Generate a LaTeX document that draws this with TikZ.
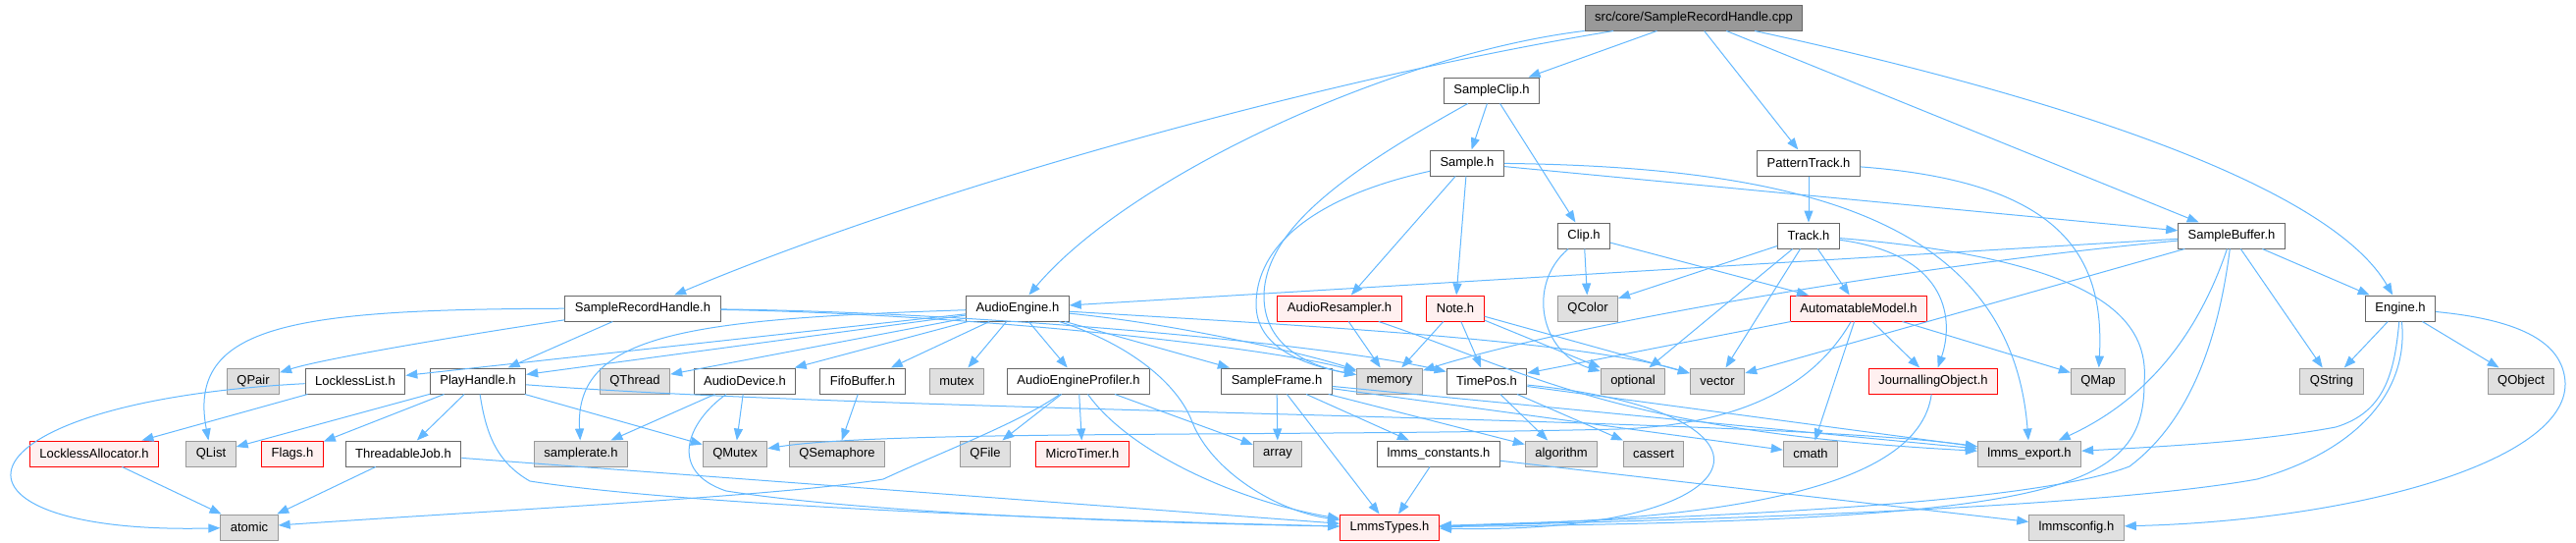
\documentclass[tikz,border=0pt]{standalone}
\usepackage{fontspec}
\setmainfont{Liberation Sans}
\usetikzlibrary{arrows.meta}
\definecolor{edgeBlue}{HTML}{63B8FF}
\definecolor{fileBorder}{HTML}{666666}
\definecolor{sysBorder}{HTML}{999999}
\definecolor{sysFill}{HTML}{E0E0E0}
\definecolor{truncFill}{HTML}{FFF0F0}
\begin{document}
\begin{tikzpicture}
[x=1pt,y=-1pt,
file/.style={draw=fileBorder,fill=white,line width=1pt,minimum height=26pt,inner xsep=10pt,inner ysep=0pt,font=\fontsize{13}{15}\selectfont},
sysFile/.style={file,draw=sysBorder,fill=sysFill},
truncFile/.style={file,draw=red,fill=truncFill},
mainFile/.style={file,fill=sysBorder},
edge/.style={draw=edgeBlue,line width=1pt,-{Triangle[length=12pt,width=9pt]}},
]\useasboundingbox (0,0) rectangle (2625,552);
\node[mainFile,] (1) at (1726 , 18) {src/core/SampleRecordHandle.cpp};
\node[file,] (2) at (655 , 314) {SampleRecordHandle.h};
\node[sysFile,] (3) at (215 , 462) {QList};
\node[sysFile,] (4) at (258 , 388) {QPair};
\node[file,] (5) at (487 , 388) {PlayHandle.h};
\node[truncFile,] (6) at (298 , 462) {Flags.h};
\node[file,] (7) at (411 , 462) {ThreadableJob.h};
\node[sysFile,] (8) at (254 , 537) {atomic};
\node[truncFile,] (9) at (1416 , 537) {LmmsTypes.h};
\node[sysFile,] (10) at (2068 , 462) {lmms\_export.h};
\node[sysFile,] (11) at (749 , 462) {QMutex};
\node[sysFile,] (12) at (1416 , 388) {memory};
\node[file,] (13) at (1515 , 388) {TimePos.h};
\node[sysFile,] (14) at (1591 , 462) {algorithm};
\node[sysFile,] (15) at (1685 , 462) {cassert};
\node[file,] (16) at (1037 , 314) {AudioEngine.h};
\node[sysFile,] (17) at (975 , 388) {mutex};
\node[sysFile,] (18) at (647 , 388) {QThread};
\node[sysFile,] (19) at (592 , 462) {samplerate.h};
\node[sysFile,] (20) at (1750 , 388) {vector};
\node[file,] (21) at (1301 , 388) {SampleFrame.h};
\node[sysFile,] (22) at (1302 , 462) {array};
\node[sysFile,] (23) at (1845 , 462) {cmath};
\node[file,] (24) at (1466 , 462) {lmms\_constants.h};
\node[sysFile,] (25) at (2116 , 537) {lmmsconfig.h};
\node[file,] (26) at (362 , 388) {LocklessList.h};
\node[truncFile,] (27) at (96 , 462) {LocklessAllocator.h};
\node[file,] (28) at (879 , 388) {FifoBuffer.h};
\node[sysFile,] (29) at (853 , 462) {QSemaphore};
\node[file,] (30) at (1099 , 388) {AudioEngineProfiler.h};
\node[sysFile,] (31) at (1004 , 462) {QFile};
\node[truncFile,] (32) at (1103 , 462) {MicroTimer.h};
\node[file,] (33) at (759 , 388) {AudioDevice.h};
\node[file,] (34) at (1520 , 92) {SampleClip.h};
\node[file,] (35) at (1495 , 166) {Sample.h};
\node[truncFile,] (36) at (1365 , 314) {AudioResampler.h};
\node[truncFile,] (37) at (1483 , 314) {Note.h};
\node[sysFile,] (38) at (1664 , 388) {optional};
\node[file,] (39) at (2274 , 240) {SampleBuffer.h};
\node[file,] (40) at (2446 , 314) {Engine.h};
\node[sysFile,] (41) at (2376 , 388) {QString};
\node[sysFile,] (42) at (2569 , 388) {QObject};
\node[file,] (43) at (1614 , 240) {Clip.h};
\node[sysFile,] (44) at (1618 , 314) {QColor};
\node[truncFile,] (45) at (1894 , 314) {AutomatableModel.h};
\node[truncFile,] (46) at (1970 , 388) {JournallingObject.h};
\node[sysFile,] (47) at (2138 , 388) {QMap};
\node[file,] (48) at (1843 , 166) {PatternTrack.h};
\node[file,] (49) at (1843 , 240) {Track.h};
\draw[edge,](1) .. controls (1350,80) and (950,190) .. (2) ;
\draw[edge,](1) .. controls (1420,55) and (1150,180) .. (16) ;
\draw[edge,](1) -- (34) ;
\draw[edge,](1) -- (48) ;
\draw[edge,](1) -- (39) ;
\draw[edge,](1) .. controls (2150,110) and (2380,200) .. (40) ;
\draw[edge,](2) .. controls (300,315) and (190,330) .. (3) ;
\draw[edge,](2) .. controls (480,340) and (330,365) .. (4) ;
\draw[edge,](2) -- (5) ;
\draw[edge,](2) .. controls (1000,320) and (1300,355) .. (12) ;
\draw[edge,](2) .. controls (1000,318) and (1350,350) .. (13) ;
\draw[edge,](5) -- (3) ;
\draw[edge,](5) -- (6) ;
\draw[edge,](5) -- (7) ;
\draw[edge,](5) .. controls (495,440) and (505,470) .. (540,490) .. controls (700,515) and (1100,530) .. (9) ;
\draw[edge,](5) .. controls (900,420) and (1800,425) .. (10) ;
\draw[edge,](5) -- (11) ;
\draw[edge,](7) -- (8) ;
\draw[edge,](7) -- (9) ;
\draw[edge,](13) .. controls (1840,420) and (1800,545) .. (9) ;
\draw[edge,](13) -- (10) ;
\draw[edge,](13) -- (14) ;
\draw[edge,](13) -- (15) ;
\draw[edge,](16) -- (26) ;
\draw[edge,](16) -- (5) ;
\draw[edge,](16) -- (18) ;
\draw[edge,](16) -- (33) ;
\draw[edge,](16) -- (28) ;
\draw[edge,](16) -- (17) ;
\draw[edge,](16) -- (30) ;
\draw[edge,](16) -- (21) ;
\draw[edge,](16) .. controls (1200,330) and (1330,360) .. (12) ;
\draw[edge,](16) .. controls (1300,330) and (1600,345) .. (20) ;
\draw[edge,](16) .. controls (700,325) and (585,340) .. (19) ;
\draw[edge,](16) .. controls (1150,350) and (1200,390) .. (1215,430) .. controls (1235,480) and (1300,520) .. (9) ;
\draw[edge,](21) -- (22) ;
\draw[edge,](21) -- (9) ;
\draw[edge,](21) -- (24) ;
\draw[edge,](21) -- (14) ;
\draw[edge,](21) -- (23) ;
\draw[edge,](21) -- (10) ;
\draw[edge,](24) -- (9) ;
\draw[edge,](24) -- (25) ;
\draw[edge,](26) -- (27) ;
\draw[edge,](26) .. controls (-60,410) and (-80,545) .. (8) ;
\draw[edge,](27) -- (8) ;
\draw[edge,](28) -- (29) ;
\draw[edge,](30) -- (31) ;
\draw[edge,](30) -- (32) ;
\draw[edge,](30) -- (22) ;
\draw[edge,](30) .. controls (1150,460) and (1260,510) .. (9) ;
\draw[edge,](30) .. controls (1040,430) and (960,460) .. (900,488) .. controls (800,505) and (500,520) .. (8) ;
\draw[edge,](33) -- (19) ;
\draw[edge,](33) -- (11) ;
\draw[edge,](33) .. controls (700,430) and (680,480) .. (740,500) .. controls (900,525) and (1200,533) .. (9) ;
\draw[edge,](34) -- (35) ;
\draw[edge,](34) -- (43) ;
\draw[edge,](34) .. controls (1380,170) and (1290,230) .. (1288,300) .. controls (1287,350) and (1330,372) .. (12) ;
\draw[edge,](35) -- (36) ;
\draw[edge,](35) -- (37) ;
\draw[edge,](35) -- (39) ;
\draw[edge,](35) .. controls (1340,200) and (1280,250) .. (1280,310) .. controls (1280,350) and (1320,370) .. (12) ;
\draw[edge,](35) .. controls (1850,170) and (2050,230) .. (10) ;
\draw[edge,](36) -- (12) ;
\draw[edge,](36) .. controls (1560,380) and (1650,440) .. (10) ;
\draw[edge,](37) -- (12) ;
\draw[edge,](37) -- (13) ;
\draw[edge,](37) -- (38) ;
\draw[edge,](37) -- (20) ;
\draw[edge,](39) -- (16) ;
\draw[edge,](39) .. controls (1950,270) and (1600,330) .. (12) ;
\draw[edge,](39) -- (20) ;
\draw[edge,](39) -- (41) ;
\draw[edge,](39) -- (40) ;
\draw[edge,](39) .. controls (2230,370) and (2160,420) .. (10) ;
\draw[edge,](39) .. controls (2260,350) and (2230,430) .. (2170,475) .. controls (2080,510) and (1800,525) .. (9) ;
\draw[edge,](40) -- (41) ;
\draw[edge,](40) -- (42) ;
\draw[edge,](40) .. controls (2440,380) and (2430,420) .. (2380,435) .. controls (2300,450) and (2200,455) .. (10) ;
\draw[edge,](40) .. controls (2455,400) and (2400,460) .. (2300,488) .. controls (2150,515) and (1800,528) .. (9) ;
\draw[edge,](40) .. controls (2560,325) and (2612,345) .. (2614,390) .. controls (2616,470) and (2400,530) .. (25) ;
\draw[edge,](43) -- (44) ;
\draw[edge,](43) -- (45) ;
\draw[edge,](43) .. controls (1555,290) and (1570,360) .. (38) ;
\draw[edge,](45) -- (46) ;
\draw[edge,](45) -- (47) ;
\draw[edge,](45) -- (23) ;
\draw[edge,](45) -- (13) ;
\draw[edge,](45) .. controls (1850,390) and (1780,432) .. (1650,437) .. controls (1300,445) and (900,438) .. (11) ;
\draw[edge,](46) .. controls (1955,500) and (1750,530) .. (9) ;
\draw[edge,](48) -- (49) ;
\draw[edge,](48) .. controls (2100,185) and (2145,260) .. (47) ;
\draw[edge,](49) -- (44) ;
\draw[edge,](49) -- (45) ;
\draw[edge,](49) -- (20) ;
\draw[edge,](49) -- (38) ;
\draw[edge,](49) .. controls (1990,260) and (1990,330) .. (46) ;
\draw[edge,](49) .. controls (2150,265) and (2190,330) .. (2185,390) .. controls (2185,500) and (2100,530) .. (9) ;
\end{tikzpicture}
\end{document}
